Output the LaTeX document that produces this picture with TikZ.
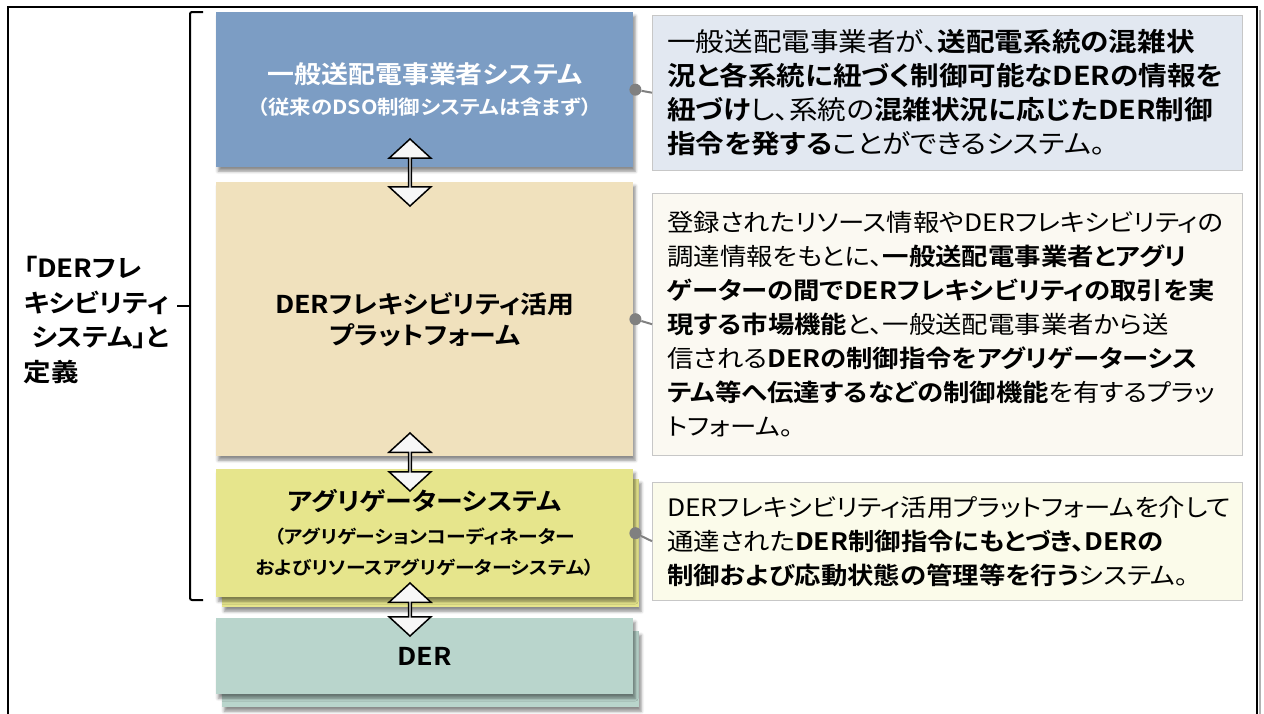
\documentclass[tikz,border=0pt]{standalone}
\usepackage{fontspec}
\setmainfont{Noto Sans CJK JP}[BoldFont={Noto Sans CJK JP Bold}, RawFeature=+palt, FakeStretch=1.1]
\usepackage{tikz}
\usetikzlibrary{shapes.arrows, positioning, shadows.blur, calc}
\definecolor{syscolor}{RGB}{124,157,196}
\definecolor{pfcolor}{RGB}{240,225,189}
\definecolor{aggcolor}{RGB}{230,229,140}
\definecolor{dercolor}{RGB}{185,213,204}
\definecolor{desc1color}{RGB}{226,232,241}
\definecolor{desc2color}{RGB}{251,249,242}
\definecolor{desc3color}{RGB}{251,251,234}
\newcommand{\ttlsize}{\fontsize{24.5}{31}\selectfont}
\newcommand{\subsize}{\fontsize{18}{26}\selectfont}

\begin{document}
\begin{tikzpicture}[
    x=1pt, y=-1pt,
    layer/.style={anchor=north west, minimum width=417pt, inner sep=0pt, align=center, font=\bfseries\ttlsize, blur shadow={shadow xshift=2pt, shadow yshift=-4pt, shadow blur radius=3pt, shadow opacity=45}},
    descbox/.style={anchor=north west, draw=black!22, minimum width=590pt, text width=560pt, inner xsep=15pt, inner ysep=0pt, align=left, font=\fontsize{24}{34}\selectfont},
    dblarrow/.style={double arrow, draw=black, line width=1.5pt, fill=black!3, rotate=90, minimum width=42pt, double arrow head extend=11pt, double arrow tip angle=95, inner sep=0pt},
    dot/.style={circle, fill=black!50, minimum size=12pt, inner sep=0pt},
    link/.style={draw=black!50, line width=2pt}
]
    \useasboundingbox (0,0) rectangle (1264,713);

    % Frame
    \draw[black!30, line width=2pt] (1260,10) -- (1260,760);
    \draw[line width=1.4pt] (8,7) rectangle (1257,760);

    % Definition bracket
    \node[anchor=west, align=left, font=\bfseries\fontsize{25}{34.5}\selectfont] (defn) at (20,320) {「DERフレ\\キシビリティ\\\hspace{8pt}システム」と\\定義};
    \draw[line width=2pt, rounded corners=2pt] (203,12) -- (190,12) -- (190,600) -- (203,600);
    \draw[line width=2pt] (190,306) -- (177,306);

    % Systems
    \node[layer, fill=syscolor, text=white, minimum height=155pt] (sys) at (216,12) {一般送配電事業者システム\\{\fontsize{19.5}{26}\selectfont （従来のDSO制御システムは含まず）}};
    \node[layer, fill=pfcolor, minimum height=274pt] (pf) at (216,182) {DERフレキシビリティ活用\\プラットフォーム};
    \node[layer, fill=aggcolor, minimum height=128pt] (aggback) at (222,479) {};
    \node[layer, fill=aggcolor, minimum height=128pt] (agg) at (216,469) {アグリゲーターシステム\\[2pt]{\subsize （アグリゲーションコーディネーター}\\{\subsize およびリソースアグリゲーターシステム）}};
    \node[layer, fill=dercolor, minimum height=76pt] (derback) at (222,631) {};
    \node[layer, fill=dercolor, minimum height=76pt] (der) at (216,618) {DER};

    % Double arrows
    \node[dblarrow, minimum height=67pt] (ar1) at (410,172.5) {};
    \node[dblarrow, minimum height=58pt] (ar2) at (410,462) {};
    \node[dblarrow, minimum height=53pt] (ar3) at (410,609.5) {};

    % Descriptions
    \node[descbox, fill=desc1color, minimum height=155pt, font=\fontsize{26}{34}\selectfont] (d1) at (652,15) {一般送配電事業者が、\textbf{送配電系統の混雑状}\\\textbf{況と各系統に紐づく制御可能なDERの情報を}\\\textbf{紐づけ}し、系統の\textbf{混雑状況に応じたDER制御}\\\textbf{指令を発する}ことができるシステム。};
    \node[descbox, fill=desc2color, minimum height=262pt] (d2) at (652,193) {登録されたリソース情報やDERフレキシビリティの\\調達情報をもとに、\textbf{一般送配電事業者とアグリ}\\\textbf{ゲーターの間でDERフレキシビリティの取引を実}\\\textbf{現する市場機能}と、一般送配電事業者から送\\信される\textbf{DERの制御指令をアグリゲーターシス}\\\textbf{テム等へ伝達するなどの制御機能}を有するプラッ\\トフォーム。};
    \node[descbox, fill=desc3color, minimum height=118pt] (d3) at (652,482) {DERフレキシビリティ活用プラットフォームを介して\\通達された\textbf{DER制御指令にもとづき、DERの}\\\textbf{制御および応動状態の管理等を行う}システム。};

    % Links
    \node[dot] (dot1) at ([xshift=2pt]sys.east) {};
    \node[dot] (dot2) at ([xshift=2pt]pf.east) {};
    \node[dot] (dot3) at ([xshift=2pt]agg.east) {};
    \draw[link] (dot1) -- (d1.west);
    \draw[link] (dot2) -- (d2.west);
    \draw[link] (dot3) -- (d3.west);
\end{tikzpicture}
\end{document}
